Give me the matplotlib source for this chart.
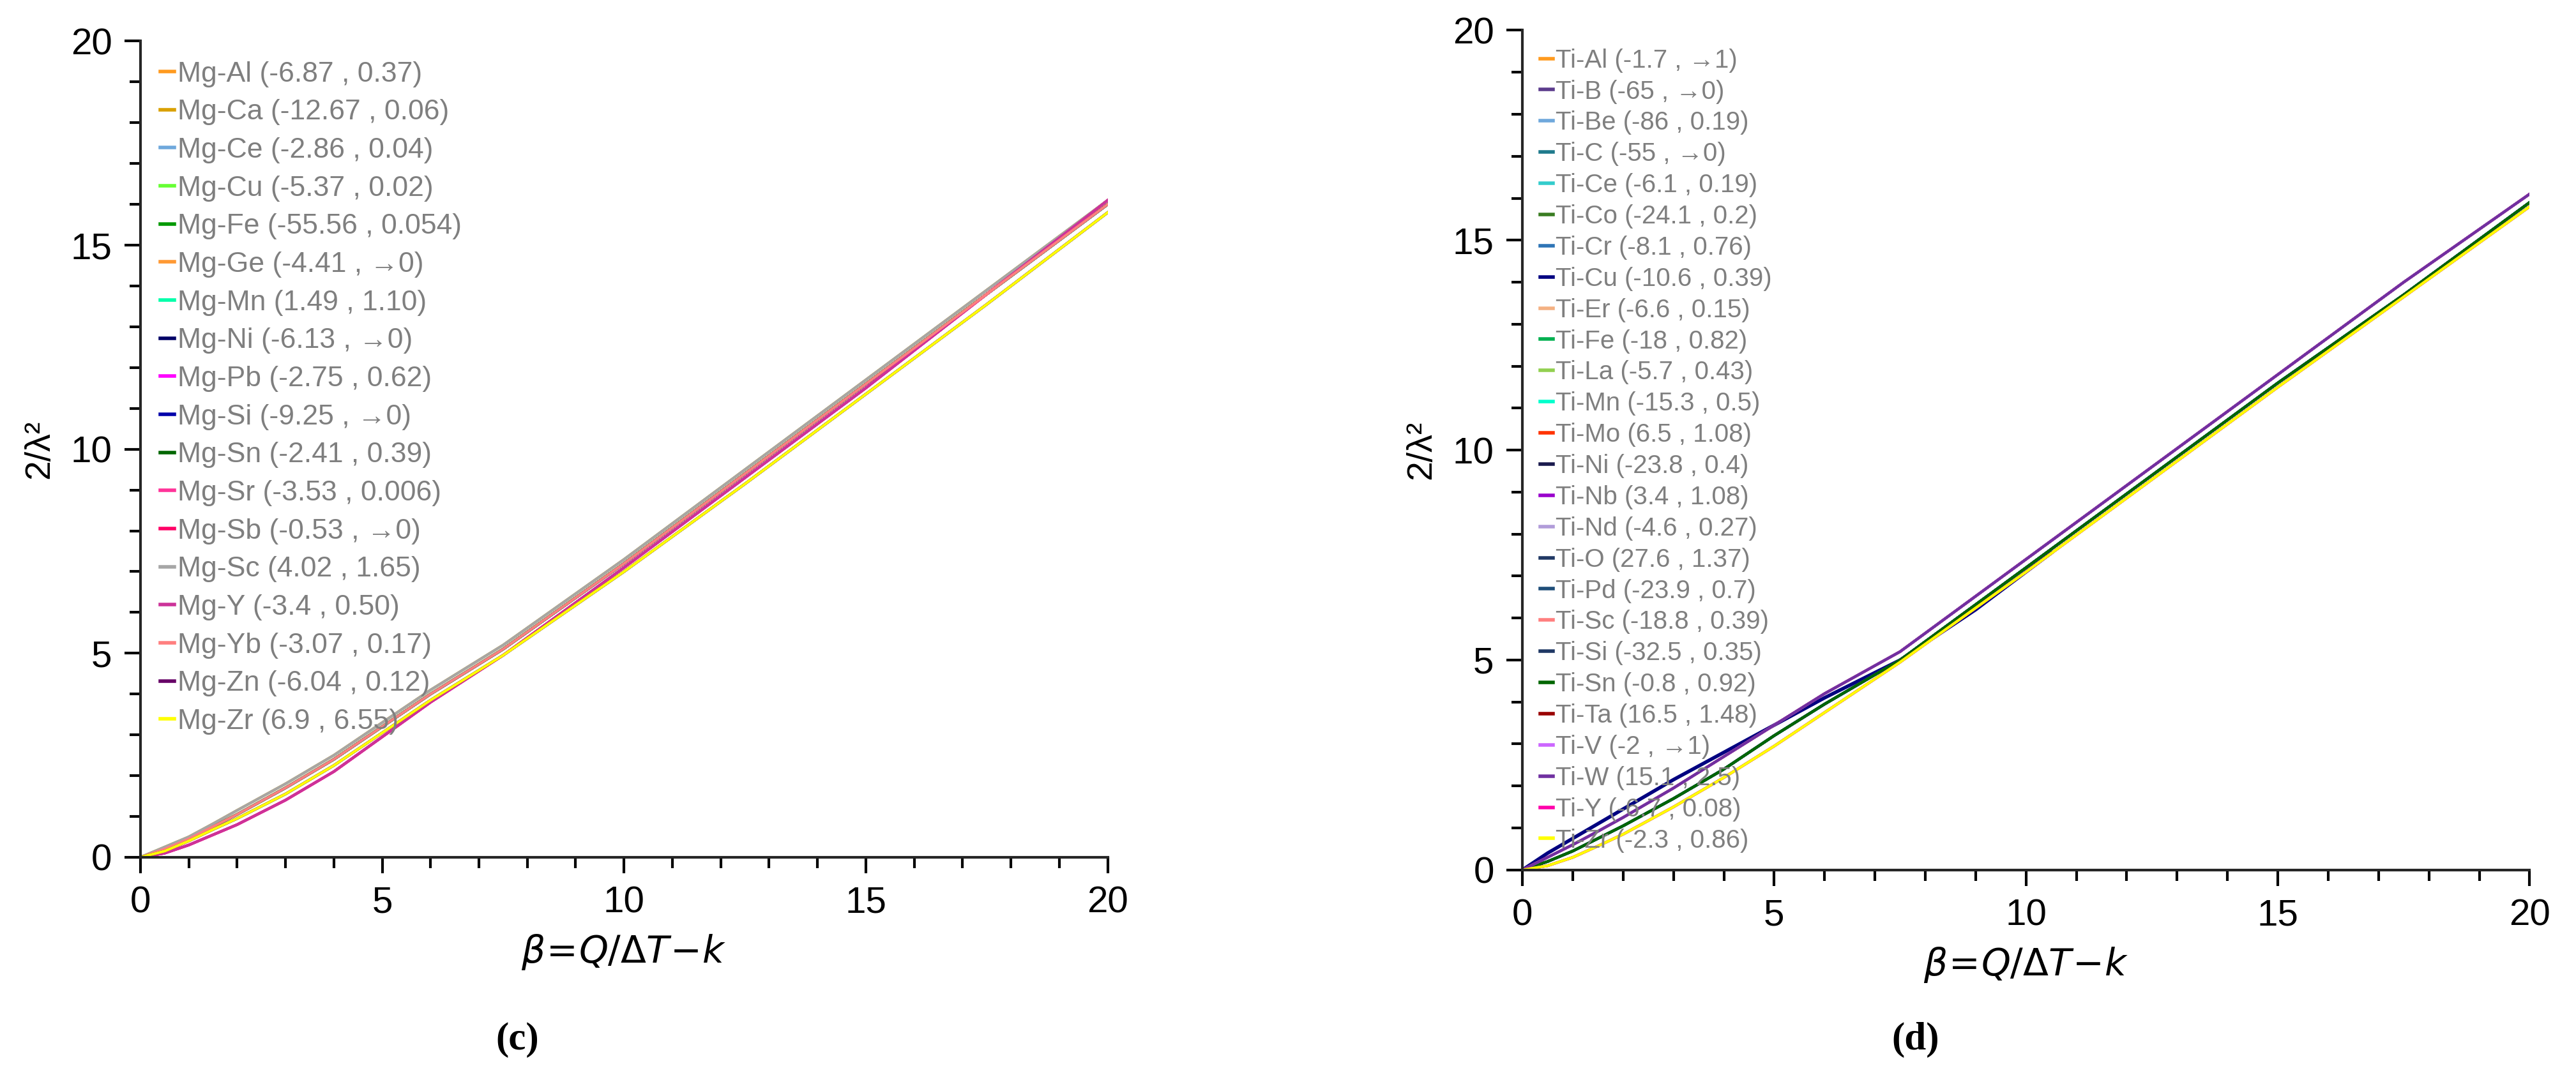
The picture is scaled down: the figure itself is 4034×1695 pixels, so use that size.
import matplotlib
matplotlib.use("Agg")
import matplotlib.pyplot as plt
from matplotlib.ticker import MultipleLocator

plt.rcParams['font.family'] = ['Liberation Sans', 'DejaVu Sans']

mg_labels = ["Mg-Al (-6.87 , 0.37)", "Mg-Ca (-12.67 , 0.06)", "Mg-Ce (-2.86 , 0.04)",
             "Mg-Cu (-5.37 , 0.02)", "Mg-Fe (-55.56 , 0.054)", "Mg-Ge (-4.41 , →0)",
             "Mg-Mn (1.49 , 1.10)", "Mg-Ni (-6.13 , →0)", "Mg-Pb (-2.75 , 0.62)",
             "Mg-Si (-9.25 , →0)", "Mg-Sn (-2.41 , 0.39)", "Mg-Sr (-3.53 , 0.006)",
             "Mg-Sb (-0.53 , →0)", "Mg-Sc (4.02 , 1.65)", "Mg-Y (-3.4 , 0.50)",
             "Mg-Yb (-3.07 , 0.17)", "Mg-Zn (-6.04 , 0.12)", "Mg-Zr (6.9 , 6.55)"]
mg_colors = ["#ff9a1f", "#d9a000", "#6fa8dc", "#66ff33", "#009900", "#ff9933",
             "#00ffaa", "#000066", "#ff00ff", "#0000aa", "#006600", "#ff3399",
             "#ff0066", "#a6a6a6", "#cc3399", "#ff7f7f", "#660066", "#ffff00"]
ti_labels = ["Ti-Al (-1.7 , →1)", "Ti-B (-65 , →0)", "Ti-Be (-86 , 0.19)", "Ti-C (-55 , →0)",
             "Ti-Ce (-6.1 , 0.19)", "Ti-Co (-24.1 , 0.2)", "Ti-Cr (-8.1 , 0.76)",
             "Ti-Cu (-10.6 , 0.39)", "Ti-Er (-6.6 , 0.15)", "Ti-Fe (-18 , 0.82)",
             "Ti-La (-5.7 , 0.43)", "Ti-Mn (-15.3 , 0.5)", "Ti-Mo (6.5 , 1.08)",
             "Ti-Ni (-23.8 , 0.4)", "Ti-Nb (3.4 , 1.08)", "Ti-Nd (-4.6 , 0.27)",
             "Ti-O (27.6 , 1.37)", "Ti-Pd (-23.9 , 0.7)", "Ti-Sc (-18.8 , 0.39)",
             "Ti-Si (-32.5 , 0.35)", "Ti-Sn (-0.8 , 0.92)", "Ti-Ta (16.5 , 1.48)",
             "Ti-V (-2 , →1)", "Ti-W (15.1 , 2.5)", "Ti-Y (-6.7 , 0.08)", "Ti-Zr (-2.3 , 0.86)"]
ti_colors = ["#ff9a1f", "#5c3c8c", "#6fa8dc", "#1f7a8c", "#33cccc", "#3a7d22", "#2e75b6",
             "#000080", "#f4b183", "#00b050", "#92d050", "#00ffcc", "#ff3300",
             "#1a1a4d", "#9900cc", "#b19cd9", "#203864", "#1f4e79", "#ff7f7f",
             "#1f3864", "#006600", "#990000", "#cc66ff", "#7030a0", "#ff00aa", "#ffff00"]

beta = [0, 0.5, 1, 1.5, 2, 3, 4, 5, 6, 7.5, 10, 12.5, 15, 17.5, 20]
# representative curve families
mg_upper = [0, 0.25, 0.5, 0.82, 1.15, 1.8, 2.5, 3.3, 4.1, 5.2, 7.3, 9.5, 11.7, 13.9, 16.1]
mg_mid   = [0, 0.2, 0.45, 0.75, 1.05, 1.7, 2.4, 3.2, 4.0, 5.1, 7.2, 9.4, 11.6, 13.8, 16.0]
mg_lower = [0, 0.15, 0.4, 0.68, 0.95, 1.55, 2.25, 3.05, 3.85, 4.95, 7.0, 9.15, 11.35, 13.55, 15.8]
mg_pink  = [0, 0.1, 0.3, 0.55, 0.8, 1.4, 2.1, 2.95, 3.8, 4.95, 7.1, 9.3, 11.5, 13.8, 16.1]
mg_family = [1, 0, 1, 1, 1, 1, 1, 2, 3, 1, 1, 3, 3, 0, 3, 1, 2, 2]
mg_curves = [mg_upper, mg_mid, mg_lower, mg_pink]

ti_upper = [0, 0.3, 0.6, 0.92, 1.25, 1.95, 2.7, 3.45, 4.2, 5.2, 7.4, 9.6, 11.8, 14.0, 16.1]
ti_mid   = [0, 0.2, 0.45, 0.75, 1.05, 1.7, 2.4, 3.2, 3.95, 5.0, 7.2, 9.4, 11.6, 13.7, 15.9]
ti_lower = [0, 0.1, 0.3, 0.57, 0.85, 1.5, 2.2, 2.95, 3.75, 4.95, 7.1, 9.3, 11.5, 13.65, 15.8]
ti_navy_x = [0, 0.5, 1, 2, 3, 4, 5, 6, 7.5, 9, 10.5]
ti_navy_b = [0, 0.4, 0.75, 1.45, 2.15, 2.8, 3.45, 4.1, 5.0, 6.2, 7.55]
ti_family = [1, 1, 1, 1, 1, 1, 1, 3, 1, 1, 1, 1, 0, 1, 0, 0, 2, 1, 2, 1, 1, 0, 0, 0, 2, 2]
ti_curves = [ti_upper, ti_mid, ti_lower]

fig = plt.figure(figsize=(40.34, 16.95), dpi=100)
axL = fig.add_axes([0.0545, 0.2077, 0.3755, 0.7543])
axR = fig.add_axes([0.591, 0.196, 0.391, 0.776])

for lab, col, fam in zip(mg_labels, mg_colors, mg_family):
    axL.plot(beta, mg_curves[fam], color=col, lw=3, label=lab)
for lab, col, fam in zip(ti_labels, ti_colors, ti_family):
    if fam == 3:
        axR.plot(ti_navy_x, ti_navy_b, color=col, lw=4, label=lab)
    else:
        axR.plot(beta, ti_curves[fam], color=col, lw=3, label=lab)

for ax, tag in [(axL, "(c)"), (axR, "(d)")]:
    ax.set_xlim(0, 20)
    ax.set_ylim(0, 20)
    ax.xaxis.set_major_locator(MultipleLocator(5))
    ax.xaxis.set_minor_locator(MultipleLocator(1))
    ax.yaxis.set_major_locator(MultipleLocator(5))
    ax.yaxis.set_minor_locator(MultipleLocator(1))
    ax.spines['top'].set_visible(False)
    ax.spines['right'].set_visible(False)
    for s in ['left', 'bottom']:
        ax.spines[s].set_linewidth(3)
        ax.spines[s].set_color('#262626')
    ax.tick_params(which='major', length=18, width=3, labelsize=42, pad=14)
    ax.tick_params(which='minor', length=12, width=3)
    ax.set_ylabel("2/λ²", fontsize=40, labelpad=16)
    ax.set_xlabel(r"$\beta\!=\!Q/\Delta T\!-\!k$", fontsize=42, labelpad=14)
    isL = ax is axL
    leg = ax.legend(loc='upper left', bbox_to_anchor=(0.0, 1.0), frameon=False,
                    fontsize=32 if isL else 29, handlelength=0.5, handletextpad=0.1,
                    labelspacing=0.42 if isL else 0.27, borderaxespad=0.3,
                    labelcolor='#7f7f7f')
    for h in leg.get_lines():
        h.set_linewidth(4)
    bb = ax.get_position()
    fig.text(bb.x0 + bb.width * 0.39, 0.03, tag, fontsize=44, ha='center',
             fontweight='bold', family=['Liberation Serif', 'DejaVu Serif'])

fig.savefig("out.png", dpi=100)
